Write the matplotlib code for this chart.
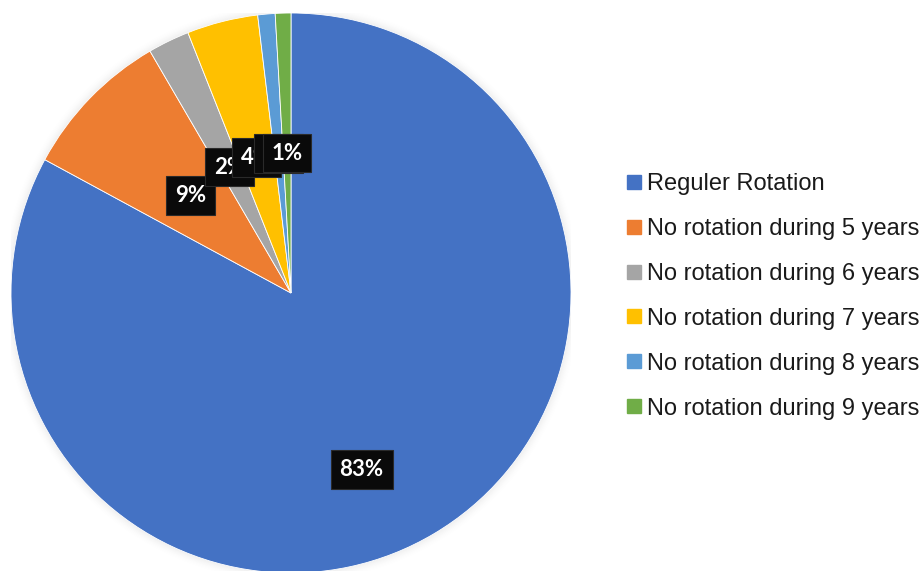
import matplotlib
matplotlib.use("Agg")
import matplotlib.pyplot as plt
from matplotlib.lines import Line2D
import numpy as np

categories = ["Reguler Rotation", "No rotation during 5 years", "No rotation during 6 years",
              "No rotation during 7 years", "No rotation during 8 years", "No rotation during 9 years"]
values = [82.9, 8.7, 2.4, 4.1, 1.0, 0.9]
colors = ["#4472C4", "#ED7D31", "#A5A5A5", "#FFC000", "#5B9BD5", "#70AD47"]
label_texts = ["83%", "9%", "2%", "4%", "1%", "1%"]
label_r = [0.68, 0.5, 0.5, 0.5, 0.5, 0.5]
label_dtheta = [-9, 0, 0, 0, 0, 0]

W, H = 924, 571
fig = plt.figure(figsize=(W / 100, H / 100), dpi=100)
cx, cy, R = 291, 293, 280
ax = fig.add_axes([(cx - R) / W, (H - cy - R) / H, 2 * R / W, 2 * R / H])
ax.set_xlim(-1, 1)
ax.set_ylim(-1, 1)
ax.set_aspect("equal")
ax.axis("off")

# soft shadow
for i, a in enumerate(np.linspace(0.012, 0.002, 8)):
    ax.add_patch(plt.Circle((0, 0), 1 + 0.004 * (i + 1), color="black", alpha=a, zorder=0, lw=0))

wedges, _ = ax.pie(values, colors=colors, startangle=90, counterclock=False, radius=1,
                   wedgeprops=dict(edgecolor="white", linewidth=0.6),
                   frame=False)
ax.set_xlim(-1, 1)
ax.set_ylim(-1, 1)

for w, txt, r, dt in zip(wedges, label_texts, label_r, label_dtheta):
    mid = np.deg2rad((w.theta1 + w.theta2) / 2 + dt)
    x, y = r * np.cos(mid), r * np.sin(mid)
    ax.text(x, y, txt, ha="center", va="center", color="white", fontsize=16,
            fontweight="bold", family=["Lato", "DejaVu Sans"], zorder=5,
            bbox=dict(boxstyle="square,pad=0.4", facecolor="#0a0a0a", edgecolor="#2a2a2a", linewidth=0.8))

handles = [Line2D([0], [0], marker="s", linestyle="none", markersize=9.5,
                  markerfacecolor=c, markeredgecolor=c) for c in colors]
leg = fig.legend(handles, categories, loc="upper left",
                 bbox_to_anchor=(627 / W, 1 - 173 / H), frameon=False,
                 prop=dict(family="Liberation Sans", size=17), labelspacing=0.97,
                 handlelength=0.6, handletextpad=0.25, borderpad=0, borderaxespad=0)
for t in leg.get_texts():
    t.set_color("#1a1a1a")

fig.savefig("out.png", dpi=100)
